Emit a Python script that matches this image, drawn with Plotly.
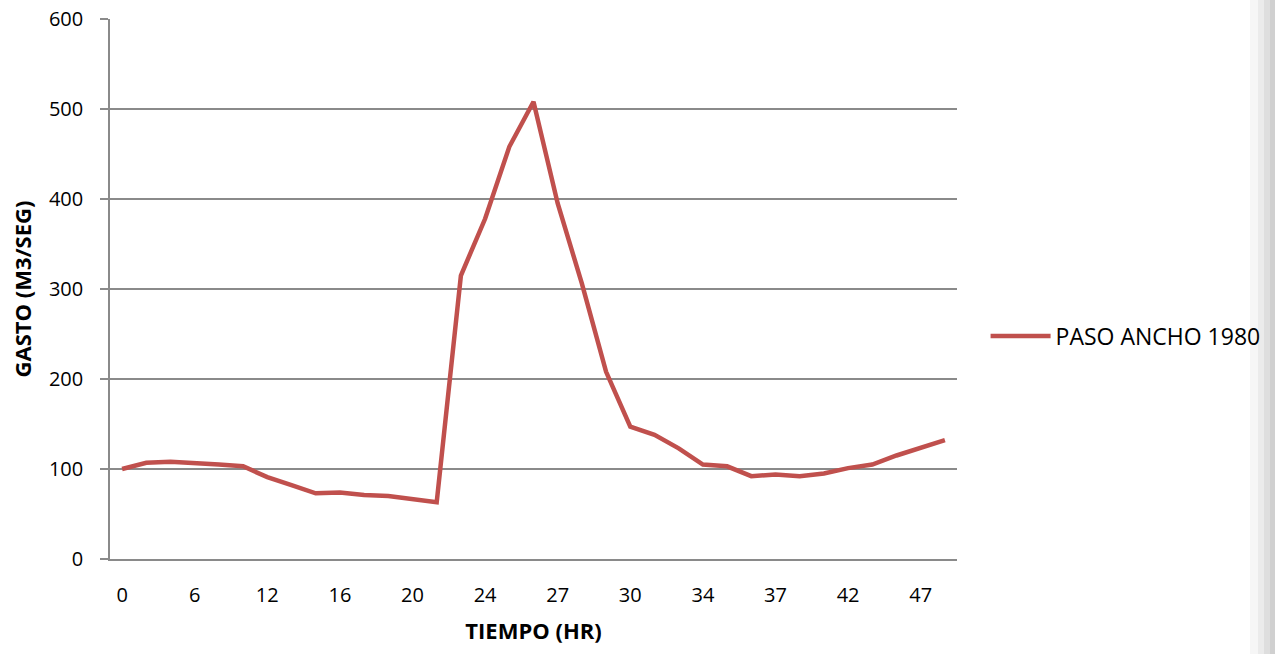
import plotly.graph_objects as go

series_name = "PASO ANCHO 1980"
gasto = [100, 107, 108, 107, 105, 103, 91, 82, 73, 74, 71, 70, 67, 63,
         315, 378, 458, 508, 395, 306, 208, 147, 138, 123, 105, 103,
         92, 94, 92, 95, 101, 105, 115, 124, 132]
x_index = list(range(len(gasto)))
tick_positions = [0, 3, 6, 9, 12, 15, 18, 21, 24, 27, 30, 33]
tick_labels = ["0", "6", "12", "16", "20", "24", "27", "30", "34", "37", "42", "47"]
y_ticks = [0, 100, 200, 300, 400, 500, 600]

W, H = 1275, 654
ML, MR, MT, MB = 110, 318, 19, 95
PW = W - ML - MR
FONT = "Open Sans"
GRID = "#8a8a8a"

fig = go.Figure()
fig.add_trace(go.Scatter(
    x=x_index, y=gasto, mode="lines", name=series_name,
    line=dict(color="#C0504D", width=4.5),
))

# subtle page-edge shading seen at the right border of the reference
def px_to_paper_x(px):
    return (px - ML) / PW

shade = [(1250, 1258, "#f6f6f6"), (1258, 1264, "#ebebeb"),
         (1264, 1270, "#dedede"), (1270, 1275, "#d0d0d0")]
for x0, x1, c in shade:
    fig.add_shape(type="rect", xref="paper", yref="paper",
                  x0=px_to_paper_x(x0), x1=px_to_paper_x(x1),
                  y0=-MB / (H - MT - MB), y1=1 + MT / (H - MT - MB),
                  fillcolor=c, line=dict(width=0), layer="below")

fig.update_layout(
    width=W, height=H,
    margin=dict(l=ML, r=MR, t=MT, b=MB, autoexpand=False),
    paper_bgcolor="white", plot_bgcolor="rgba(0,0,0,0)",
    font=dict(family=FONT, size=20, color="black"),
    showlegend=True,
    legend=dict(xref="container", yref="container",
                x=0.773, y=0.486, xanchor="left", yanchor="middle",
                itemwidth=60,
                font=dict(family=FONT, size=23), bgcolor="rgba(0,0,0,0)"),
    xaxis=dict(
        range=[-0.5, len(gasto) - 0.5], automargin=False,
        tickmode="array", tickvals=tick_positions, ticktext=tick_labels,
        showgrid=False, zeroline=False,
        showline=True, linecolor=GRID, linewidth=1.5,
        ticks="", ticklabelstandoff=17, tickfont=dict(size=20),
        ticklabeloverflow="allow",
        title=dict(text="<b>TIEMPO (HR)</b>", font=dict(size=22), standoff=17),
    ),
    yaxis=dict(
        range=[0, 600], tickmode="array", tickvals=y_ticks, automargin=False,
        showgrid=True, gridcolor=GRID, gridwidth=1.5,
        zeroline=False,
        showline=True, linecolor=GRID, linewidth=1.5,
        ticks="outside", ticklen=8, tickcolor=GRID, tickwidth=1.5,
        ticklabelstandoff=13, tickfont=dict(size=20),
        ticklabeloverflow="allow",
        title=dict(text="<b>GASTO (M3/SEG)</b>", font=dict(size=22), standoff=11),
    ),
)
fig.write_html("out.html",
               config={"displayModeBar": False},
               post_script="document.body.style.margin='0';document.body.style.overflow='hidden';")
